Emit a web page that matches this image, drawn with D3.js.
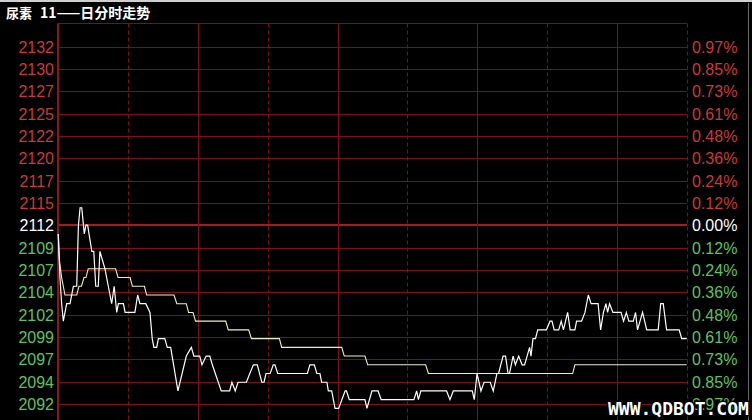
<!DOCTYPE html>
<html>
<head>
<meta charset="utf-8">
<script src="https://cdn.jsdelivr.net/npm/d3@7"></script>
<style>
  html, body { margin: 0; padding: 0; background: #000; }
  svg { display: block; }
</style>
</head>
<body>
<svg id="chart" width="752" height="420"></svg>
<script>
// ---------- DATA ----------
const titleParts = ["尿素", "11——日分时走势"];
const prevClose = 2112;
const stepPct = 0.1212;            // percent per grid step
const gridSteps = [8, 7, 6, 5, 4, 3, 2, 1, 0, -1, -2, -3, -4, -5, -6, -7, -8];
const leftTicks = ["2132","2130","2127","2125","2122","2120","2117","2115","2112",
                   "2109","2107","2104","2102","2099","2097","2094","2092"];
const rightTicks = ["0.97%","0.85%","0.73%","0.61%","0.48%","0.36%","0.24%","0.12%","0.00%",
                    "0.12%","0.24%","0.36%","0.48%","0.61%","0.73%","0.85%","0.97%"];
const sessionMinutes = 225;
const timeGrid = [25, 50, 75, 100, 125, 150, 175, 200, 225];

// price line (minute, price)
const priceTimes = [0.1,0.7,1.3,1.9,2.5,3.1,4.3,5.5,6.7,7.3,7.9,8.5,9.4,10.0,10.6,12.1,12.8,13.5,14.4,15.0,
  16.8,18.6,19.2,20.1,21.0,21.6,23.4,24.0,27.5,28.5,29.3,31.4,32.9,33.7,34.3,35.3,35.9,38.2,39.1,40.3,
  42.9,45.9,47.7,48.6,50.7,51.5,53.0,54.3,55.2,58.4,61.4,62.2,63.4,64.4,67.4,68.6,69.9,71.3,72.9,73.7,
  74.4,75.9,77.0,77.6,78.6,89.2,90.1,91.7,92.6,93.7,94.3,96.2,96.7,97.9,99.1,100.4,102.7,103.2,104.2,109.8,
  110.5,112.3,114.5,115.6,127.3,128.3,128.9,129.8,139.0,140.2,141.4,148.2,148.9,149.9,151.3,152.4,154.6,155.7,157.0,157.6,
  159.2,160.1,161.0,161.5,162.8,163.6,164.8,166.0,166.9,167.8,168.7,169.2,169.9,170.8,171.6,174.7,176.0,176.7,177.5,179.1,
  180.0,180.8,182.3,183.2,184.9,185.5,187.3,188.5,189.7,190.7,193.2,194.1,195.1,196.0,196.6,197.3,198.5,201.4,202.3,203.3,
  204.2,205.8,206.6,207.3,208.2,209.1,210.6,214.7,215.6,216.5,217.7,222.2,223.1,224.9];
const priceValues = [2111,2106,2103,2101,2102,2103,2103,2105,2105,2112,2114,2114,2111,2112,2112,2109,2109,2105,2105,2109,
  2107,2104,2103,2105,2102,2103,2103,2102,2102,2104,2103,2103,2102,2099,2098,2098,2099,2099,2098,2098,
  2093,2097,2098,2097,2097,2096,2097,2097,2096,2093,2093,2094,2093,2094,2094,2095,2096,2096,2094,2094,
  2095,2095,2096,2096,2095,2095,2096,2096,2095,2095,2094,2094,2093,2093,2091,2091,2093,2093,2092,2092,
  2091,2093,2093,2092,2092,2093,2092,2093,2093,2092,2093,2093,2092,2095,2093,2094,2094,2093,2095,2095,
  2097,2097,2095,2095,2097,2096,2097,2096,2096,2097,2098,2097,2099,2099,2100,2100,2101,2101,2100,2100,
  2101,2100,2102,2100,2100,2101,2101,2102,2104,2103,2103,2100,2102,2103,2102,2103,2102,2102,2101,2102,
  2101,2101,2102,2100,2101,2102,2100,2100,2103,2103,2100,2100,2099,2099];

// average price line (minute, price)
const avgTimes = [0.1,0.5,1.3,2.5,6.7,7.5,8.4,9.3,10.0,10.8,20.6,21.5,25.8,26.6,30.9,31.7,41.5,42.5,45.9,46.7,
  48.3,49.2,60.0,60.9,68.2,69.2,79.2,80.0,101.5,102.4,109.8,110.8,131.5,132.5,184.1,184.9,224.9];
const avgValues = [2111,2108,2106,2104,2104,2105,2105,2106,2106,2107,2107,2106,2106,2105,2105,2104,2104,2103,2103,2102,
  2102,2101,2101,2100,2100,2099,2099,2098,2098,2097,2097,2096,2096,2095,2095,2096,2096];

const watermark = "WWW.QDBOT.COM";

// ---------- LAYOUT ----------
const W = 752, H = 420;
const plotLeft = 58, plotRight = 687, plotTop = 23.5;
const svg = d3.select("#chart");

svg.append("rect").attr("width", W).attr("height", H).attr("fill", "#000");
svg.append("rect").attr("x", 0).attr("y", 0).attr("width", W).attr("height", 2).attr("fill", "#cfcfcf");
svg.append("line").attr("x1", 748.5).attr("x2", 748.5).attr("y1", 3).attr("y2", H)
   .attr("stroke", "#6a6a6a").attr("stroke-width", 1);

const stepAbs = prevClose * stepPct / 100;
const x = d3.scaleLinear().domain([0, sessionMinutes]).range([plotLeft, plotRight]);
const y = d3.scaleLinear()
  .domain([prevClose - 9 * stepAbs, prevClose + 9 * stepAbs])
  .range([426.2, 24.2]);

const crisp = v => Math.round(v) + 0.5;
const grid = svg.append("g");

// horizontal grid lines
gridSteps.forEach(k => {
  const v = prevClose + k * stepAbs;
  grid.append("line")
    .attr("x1", plotLeft).attr("x2", plotRight)
    .attr("y1", k === 0 ? Math.round(y(v)) : crisp(y(v)))
    .attr("y2", k === 0 ? Math.round(y(v)) : crisp(y(v)))
    .attr("stroke", k === 0 ? "#a81c1c" : "#801010")
    .attr("stroke-width", k === 0 ? 2 : 1);
});

// top border
grid.append("line").attr("x1", plotLeft).attr("x2", plotRight)
  .attr("y1", plotTop).attr("y2", plotTop).attr("stroke", "#801010");

// vertical grid lines
timeGrid.forEach((t, i) => {
  grid.append("line")
    .attr("x1", crisp(x(t))).attr("x2", crisp(x(t)))
    .attr("y1", plotTop).attr("y2", H)
    .attr("stroke", "#801010")
    .attr("stroke-width", 1)
    .attr("stroke-dasharray", i % 2 === 0 ? "4,3" : null);
});

// left border
grid.append("line").attr("x1", plotLeft).attr("x2", plotLeft)
  .attr("y1", plotTop).attr("y2", H).attr("stroke", "#8e1818").attr("stroke-width", 2);

// axis labels
const labColor = k => k > 0 ? "#c83a3a" : (k < 0 ? "#5cc45c" : "#ffffff");
const labels = svg.append("g")
  .attr("font-family", "'Liberation Sans', Arial, sans-serif")
  .attr("font-size", 16);

gridSteps.forEach((k, i) => {
  const yy = y(prevClose + k * stepAbs);
  labels.append("text")
    .attr("x", 54).attr("y", yy + 6)
    .attr("text-anchor", "end")
    .attr("fill", labColor(k))
    .text(leftTicks[i]);
  labels.append("text")
    .attr("x", 692).attr("y", yy + 6)
    .attr("text-anchor", "start")
    .attr("fill", labColor(k))
    .text(rightTicks[i]);
});

// lines
const lineGen = d3.line().x(d => x(d[0])).y(d => y(d[1]));
svg.append("path")
  .datum(avgTimes.map((t, i) => [t, avgValues[i]]))
  .attr("d", lineGen)
  .attr("fill", "none")
  .attr("stroke", "#efefbc")
  .attr("stroke-width", 1.1);

svg.append("path")
  .datum(priceTimes.map((t, i) => [t, priceValues[i]]))
  .attr("d", lineGen)
  .attr("fill", "none")
  .attr("stroke", "#ffffff")
  .attr("stroke-width", 1.2)
  .attr("stroke-linejoin", "miter");

// title
const title = svg.append("text")
  .attr("x", 6).attr("y", 18)
  .attr("font-family", "'Noto Sans CJK SC', sans-serif")
  .attr("font-weight", "bold")
  .attr("font-size", 13)
  .attr("fill", "#ffffff");
title.append("tspan").text(titleParts[0]);
title.append("tspan").attr("dx", 8).attr("font-size", 14).text(titleParts[1]);

// watermark
svg.append("text")
  .attr("x", 608).attr("y", 415)
  .attr("font-family", "'DejaVu Sans Mono', monospace")
  .attr("font-weight", "bold")
  .attr("font-size", 18)
  .attr("fill", "#ffffff")
  .attr("stroke", "#000")
  .attr("stroke-width", 3)
  .attr("paint-order", "stroke")
  .text(watermark);
</script>
</body>
</html>
